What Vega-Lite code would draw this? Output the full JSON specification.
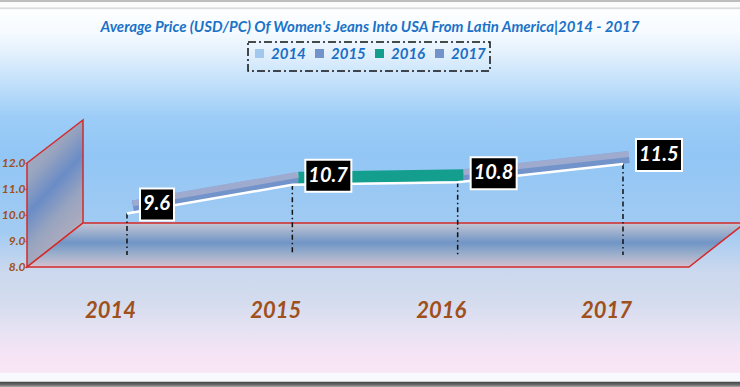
{
  "$schema": "https://vega.github.io/schema/vega-lite/v6.json",
  "width": 740,
  "height": 387,
  "autosize": {"type": "none"},
  "padding": 0,
  "background": "#ffffff",
  "title": {
    "text": "Average Price (USD/PC) Of Women's Jeans Into USA From Latin America|2014 - 2017",
    "font": "Lato", "fontSize": 15, "fontStyle": "italic", "fontWeight": "bold",
    "color": "#1a72c8", "anchor": "middle", "baseline": "top", "offset": -35
  },
  "config": {
    "view": {
      "stroke": null,
      "fill": {
        "gradient": "linear", "x1": 0, "y1": 0, "x2": 0, "y2": 1,
        "stops": [
          {"offset": 0, "color": "#bdbdbd"},
          {"offset": 0.004, "color": "#bdbdbd"},
          {"offset": 0.006, "color": "#fbfbfb"},
          {"offset": 0.018, "color": "#fbfbfb"},
          {"offset": 0.021, "color": "#d0d0d0"},
          {"offset": 0.025, "color": "#fdfeff"},
          {"offset": 0.08, "color": "#f6fbff"},
          {"offset": 0.13, "color": "#e6f2fd"},
          {"offset": 0.2, "color": "#c8e3fb"},
          {"offset": 0.3, "color": "#9dcdf7"},
          {"offset": 0.4, "color": "#92c6f5"},
          {"offset": 0.6, "color": "#a2cbf2"},
          {"offset": 0.7, "color": "#cbd8ee"},
          {"offset": 0.78, "color": "#d4dcee"},
          {"offset": 0.86, "color": "#e8e3f4"},
          {"offset": 0.92, "color": "#f6e4f5"},
          {"offset": 0.962, "color": "#f8e6f5"},
          {"offset": 0.965, "color": "#f7f9fd"},
          {"offset": 0.985, "color": "#f7f9fd"},
          {"offset": 0.988, "color": "#4a4a4a"},
          {"offset": 0.995, "color": "#6e6e6e"},
          {"offset": 1, "color": "#b0b0b0"}
        ]
      }
    }
  },
  "datasets": {
    "points": [
      {"year": 2014, "value": 9.6},
      {"year": 2015, "value": 10.7},
      {"year": 2016, "value": 10.8},
      {"year": 2017, "value": 11.5}
    ],
    "frame": [
      {"part": "wall", "year": 2013.3952, "value": 8, "value2": 12},
      {"part": "wall", "year": 2013.7339, "value": 9.692, "value2": 13.654},
      {"part": "floor", "year": 2013.3952, "value": 8, "value2": 8},
      {"part": "floor", "year": 2013.7339, "value": 8, "value2": 9.692},
      {"part": "floor", "year": 2017.3992, "value": 8, "value2": 9.692},
      {"part": "floor", "year": 2017.7379, "value": 9.692, "value2": 9.692}
    ]
  },
  "encoding": {
    "x": {
      "field": "year", "type": "quantitative", "title": null,
      "scale": {"domain": [2013.2318, 2017.7077], "nice": false, "zero": false},
      "axis": {
        "values": [2014, 2015, 2016, 2017], "format": "d", "orient": "bottom",
        "offset": -89, "domain": false, "ticks": false, "grid": false,
        "labelOffset": -17, "labelPadding": 12, "labelBaseline": "middle", "labelFlush": false,
        "labelFont": "Lato", "labelFontSize": 22, "labelFontStyle": "italic", "labelFontWeight": "bold",
        "labelColor": "#a0501a", "title": null
      }
    },
    "y": {
      "field": "value", "type": "quantitative", "title": null,
      "scale": {"domain": [3.3846, 18.2692], "nice": false, "zero": false},
      "axis": {
        "values": [8, 9, 10, 11, 12], "format": ".1f", "orient": "left",
        "offset": -27, "domain": false, "ticks": true, "tickColor": "#d42a2a", "tickSize": 2,
        "grid": false, "labelPadding": 0, "labelFlush": false,
        "labelFont": "Lato", "labelFontSize": 12, "labelFontStyle": "italic", "labelFontWeight": "bold",
        "labelColor": "#a0501a", "title": null
      }
    }
  },
  "layer": [
    {
      "data": {"name": "frame"},
      "transform": [{"filter": "datum.part === 'wall'"}],
      "mark": {
        "type": "area", "orient": "vertical", "stroke": "#d42a2a", "strokeWidth": 1.5,
        "fill": {
          "gradient": "linear", "x1": 0, "y1": 0, "x2": 0.41, "y2": 1,
          "stops": [
            {"offset": 0, "color": "#b8b4c4"},
            {"offset": 0.35, "color": "#98a4bf"},
            {"offset": 0.55, "color": "#6a8cc6"},
            {"offset": 0.75, "color": "#98a4bf"},
            {"offset": 1, "color": "#b4aebe"}
          ]
        }
      },
      "encoding": {"y2": {"field": "value2"}}
    },
    {
      "data": {"name": "frame"},
      "transform": [{"filter": "datum.part === 'floor'"}],
      "mark": {
        "type": "area", "orient": "vertical", "stroke": "#d42a2a", "strokeWidth": 1.5,
        "fill": {
          "gradient": "linear", "x1": 0, "y1": 0, "x2": 0, "y2": 1,
          "stops": [
            {"offset": 0, "color": "#c3c6d3"},
            {"offset": 0.45, "color": "#7095c6"},
            {"offset": 0.7, "color": "#9aaecb"},
            {"offset": 1, "color": "#d3c1d0"}
          ]
        }
      },
      "encoding": {"y2": {"field": "value2"}}
    },
    {
      "data": {"name": "points"},
      "mark": {"type": "rule", "color": "#111111", "strokeWidth": 1.5, "strokeDash": [5, 3, 1.5, 3], "yOffset": -12, "y2Offset": -12},
      "encoding": {"y2": {"datum": 8}}
    },
    {
      "data": {"name": "points"},
      "transform": [
        {"window": [
          {"op": "lead", "field": "year", "as": "nextYear"},
          {"op": "lead", "field": "value", "as": "nextValue"}
        ], "sort": [{"field": "year"}]},
        {"filter": "datum.nextYear != null"}
      ],
      "mark": {"type": "rule", "strokeWidth": 12, "strokeCap": "butt", "xOffset": 6, "x2Offset": 6, "yOffset": -19, "y2Offset": -19},
      "encoding": {
        "x2": {"field": "nextYear"},
        "y2": {"field": "nextValue"},
        "color": {
          "field": "nextYear", "type": "nominal",
          "scale": {"domain": [2014, 2015, 2016, 2017], "range": ["#a3c8ee", "#7294cb", "#139e8e", "#7294cb"]},
          "legend": {
            "title": null, "orient": "none", "legendX": 248, "legendY": 42, "direction": "horizontal",
            "strokeColor": "#111111", "padding": 4,
            "symbolType": "square", "symbolSize": 9, "symbolStrokeWidth": 6,
            "labelFont": "Lato", "labelFontSize": 15, "labelFontStyle": "italic", "labelFontWeight": "bold",
            "labelColor": "#1a6fc6", "labelOffset": 4, "columnPadding": 0,
            "encode": {"legend": {"update": {"strokeDash": {"value": [8, 3, 2, 3]}, "strokeWidth": {"value": 1.5}}}}
          }
        }
      }
    },
    {
      "data": {"name": "points"},
      "transform": [
        {"window": [
          {"op": "lead", "field": "year", "as": "nextYear"},
          {"op": "lead", "field": "value", "as": "nextValue"}
        ], "sort": [{"field": "year"}]},
        {"filter": "datum.nextYear != null && datum.nextYear != 2016"}
      ],
      "mark": {"type": "rule", "stroke": "#c4bed2", "opacity": 0.55, "strokeWidth": 6, "strokeCap": "butt", "xOffset": 6, "x2Offset": 6, "yOffset": -22, "y2Offset": -22},
      "encoding": {
        "x2": {"field": "nextYear"},
        "y2": {"field": "nextValue"}
      }
    },
    {
      "data": {"name": "points"},
      "mark": {"type": "line", "color": "#ffffff", "strokeWidth": 2.5, "yOffset": -12}
    },
    {
      "data": {"name": "points"},
      "mark": {"type": "point", "filled": true, "fill": "#000000", "stroke": "#ffffff", "strokeWidth": 2, "opacity": 1, "size": 1024, "yOffset": -12},
      "encoding": {
        "shape": {
          "condition": {"test": "datum.value < 10", "value": "M0.8125,-1.5625L2.9375,-1.5625L2.9375,0.4375L0.8125,0.4375Z"},
          "value": "M0.8125,-1.5625L3.6875,-1.5625L3.6875,0.4375L0.8125,0.4375Z"
        }
      }
    },
    {
      "data": {"name": "points"},
      "mark": {"type": "text", "align": "left", "baseline": "middle", "dx": 16, "dy": -21, "font": "Lato", "fontSize": 20, "fontStyle": "italic", "fontWeight": "bold", "color": "#ffffff"},
      "encoding": {"text": {"field": "value", "format": ".1f"}}
    }
  ]
}
